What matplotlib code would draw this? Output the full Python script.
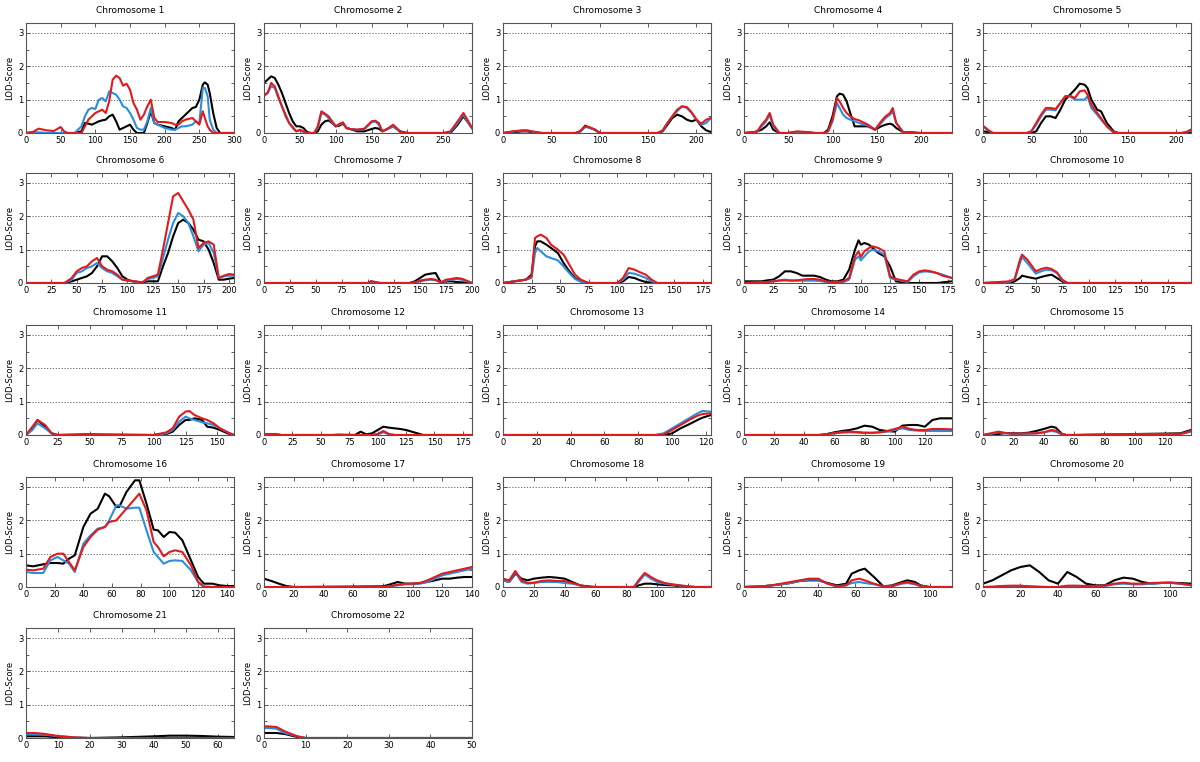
import numpy as np
import matplotlib
matplotlib.use('Agg')
from matplotlib import pyplot as plt
from matplotlib.ticker import MultipleLocator

# chromosome lengths (x-axis limits) and tick step
chrom_len = [300, 290, 215, 235, 215, 205, 200, 182, 178, 197, 163, 183,
             123, 138, 137, 145, 140, 135, 112, 111, 65, 50]
tick_step = [50, 50, 50, 50, 50, 25, 25, 25, 25, 25, 25, 25,
             20, 20, 20, 20, 20, 20, 20, 20, 10, 10]

# position (cM) and LOD score per chromosome: black, blue, red
pos = {}
black = {}
blue = {}
red = {}

pos[1] = [0, 10, 18, 30, 40, 50, 55, 60, 70, 80, 85, 90, 95, 100, 105, 110, 115, 120, 125, 130, 135, 140, 145, 150, 155, 160, 165, 170, 175, 180, 185, 190, 200, 210, 215, 220, 225, 230, 240, 245, 250, 255, 258, 262, 265, 270, 275, 280, 290, 300]
black[1] = [0, 0, 0, 0, 0, 0, 0, 0, 0, 0.05, 0.3, 0.28, 0.25, 0.3, 0.35, 0.38, 0.4, 0.5, 0.55, 0.35, 0.1, 0.15, 0.2, 0.25, 0.1, 0, 0, 0, 0.3, 0.65, 0.3, 0.25, 0.2, 0.15, 0.1, 0.35, 0.45, 0.55, 0.75, 0.78, 1.0, 1.45, 1.52, 1.45, 1.2, 0.6, 0.15, 0, 0, 0]
blue[1] = [0, 0.03, 0.02, 0, 0, 0, 0, 0, 0, 0.2, 0.5, 0.7, 0.75, 0.72, 1.0, 1.05, 0.95, 1.25, 1.2, 1.15, 1.0, 0.8, 0.75, 0.6, 0.4, 0.15, 0.1, 0.1, 0.35, 0.75, 0.3, 0.25, 0.15, 0.1, 0.1, 0.15, 0.2, 0.2, 0.25, 0.35, 0.3, 1.35, 1.35, 1.1, 0.4, 0.1, 0, 0, 0, 0]
red[1] = [0, 0.03, 0.13, 0.08, 0.06, 0.18, 0.05, 0, 0, 0, 0.2, 0.4, 0.5, 0.6, 0.65, 0.7, 0.6, 0.95, 1.6, 1.72, 1.65, 1.42, 1.48, 1.3, 0.9, 0.7, 0.4, 0.55, 0.8, 1.0, 0.45, 0.33, 0.33, 0.3, 0.25, 0.25, 0.35, 0.4, 0.45, 0.35, 0.25, 0.65, 0.45, 0.2, 0.1, 0, 0, 0, 0, 0]

pos[2] = [0, 5, 10, 15, 20, 25, 30, 35, 40, 45, 50, 55, 60, 65, 70, 75, 80, 85, 90, 95, 100, 105, 110, 115, 120, 130, 140, 150, 155, 160, 165, 170, 175, 180, 185, 190, 200, 250, 260, 270, 278, 285, 290]
black[2] = [1.5, 1.6, 1.7, 1.65, 1.45, 1.2, 0.9, 0.6, 0.35, 0.2, 0.2, 0.15, 0.03, 0, 0, 0.05, 0.25, 0.35, 0.38, 0.3, 0.2, 0.22, 0.28, 0.15, 0.12, 0.05, 0.05, 0.12, 0.15, 0.13, 0.05, 0.1, 0.15, 0.2, 0.12, 0.05, 0, 0, 0, 0.25, 0.5, 0.3, 0.15]
blue[2] = [1.1, 1.2, 1.4, 1.35, 1.05, 0.8, 0.5, 0.3, 0.15, 0.05, 0.08, 0.03, 0, 0, 0, 0.15, 0.6, 0.55, 0.45, 0.32, 0.2, 0.25, 0.3, 0.15, 0.12, 0.1, 0.12, 0.32, 0.35, 0.25, 0.05, 0.1, 0.15, 0.2, 0.12, 0.02, 0, 0, 0.03, 0.3, 0.55, 0.3, 0.15]
red[2] = [1.15, 1.2, 1.5, 1.4, 1.1, 0.8, 0.55, 0.3, 0.18, 0.05, 0.1, 0.05, 0, 0, 0, 0.2, 0.65, 0.58, 0.5, 0.35, 0.2, 0.27, 0.32, 0.15, 0.12, 0.1, 0.13, 0.35, 0.37, 0.3, 0.05, 0.1, 0.17, 0.25, 0.15, 0.03, 0, 0, 0.05, 0.35, 0.6, 0.35, 0.15]

pos[3] = [0, 10, 20, 25, 30, 40, 75, 80, 85, 90, 95, 100, 160, 165, 170, 175, 180, 185, 190, 195, 200, 205, 210, 215]
black[3] = [0, 0.02, 0.05, 0.05, 0.02, 0, 0, 0.05, 0.22, 0.15, 0.1, 0, 0, 0.05, 0.25, 0.45, 0.55, 0.5, 0.4, 0.35, 0.4, 0.2, 0.08, 0.03]
blue[3] = [0, 0.04, 0.07, 0.07, 0.04, 0, 0, 0.05, 0.18, 0.15, 0.1, 0, 0, 0.07, 0.3, 0.5, 0.65, 0.8, 0.75, 0.6, 0.4, 0.25, 0.3, 0.45]
red[3] = [0, 0.05, 0.08, 0.08, 0.05, 0, 0, 0.06, 0.2, 0.17, 0.1, 0, 0, 0.08, 0.3, 0.5, 0.7, 0.8, 0.78, 0.62, 0.4, 0.28, 0.4, 0.45]

pos[4] = [0, 10, 15, 20, 25, 29, 33, 40, 50, 60, 70, 80, 90, 95, 100, 105, 108, 112, 116, 120, 125, 130, 140, 148, 155, 160, 165, 168, 172, 180, 190, 200, 210, 235]
black[4] = [0, 0.02, 0.05, 0.1, 0.2, 0.32, 0.1, 0, 0, 0.03, 0.02, 0, 0, 0.1, 0.5, 1.1, 1.18, 1.15, 0.95, 0.6, 0.2, 0.2, 0.2, 0.1, 0.2, 0.25, 0.28, 0.25, 0.15, 0.02, 0.02, 0, 0, 0]
blue[4] = [0, 0.02, 0.05, 0.2, 0.35, 0.55, 0.2, 0, 0, 0.02, 0.02, 0, 0, 0.05, 0.35, 0.9, 0.75, 0.55, 0.45, 0.4, 0.35, 0.3, 0.22, 0.1, 0.3, 0.45, 0.55, 0.65, 0.3, 0.02, 0, 0, 0, 0]
red[4] = [0, 0.02, 0.05, 0.25, 0.4, 0.6, 0.25, 0, 0, 0.05, 0.03, 0, 0, 0.05, 0.4, 1.05, 0.95, 0.75, 0.6, 0.5, 0.42, 0.38, 0.25, 0.1, 0.35, 0.5, 0.6, 0.75, 0.3, 0.02, 0, 0, 0, 0]

pos[5] = [0, 5, 10, 45, 50, 55, 60, 65, 70, 75, 80, 85, 90, 95, 100, 105, 108, 112, 118, 122, 128, 135, 140, 205, 210, 215]
black[5] = [0.05, 0.03, 0, 0, 0, 0.05, 0.3, 0.5, 0.5, 0.45, 0.7, 1.0, 1.15, 1.3, 1.48, 1.45, 1.35, 1.0, 0.7, 0.65, 0.3, 0.05, 0, 0, 0, 0]
blue[5] = [0.2, 0.08, 0, 0, 0.05, 0.25, 0.5, 0.7, 0.7, 0.68, 0.9, 1.1, 1.1, 1.0, 1.0, 1.0, 1.1, 0.75, 0.55, 0.4, 0.2, 0.02, 0, 0, 0.02, 0.08]
red[5] = [0.22, 0.1, 0, 0, 0.05, 0.3, 0.55, 0.75, 0.75, 0.72, 0.9, 1.1, 1.12, 1.05, 1.25, 1.28, 1.15, 0.85, 0.6, 0.45, 0.2, 0.02, 0, 0, 0.03, 0.1]

pos[6] = [0, 10, 38, 45, 50, 55, 60, 65, 70, 75, 80, 85, 90, 95, 100, 105, 110, 115, 120, 125, 130, 135, 140, 145, 150, 155, 160, 165, 170, 175, 180, 185, 190, 195, 200, 205]
black[6] = [0, 0, 0, 0.05, 0.1, 0.15, 0.2, 0.3, 0.5, 0.8, 0.8, 0.65, 0.45, 0.2, 0.1, 0.05, 0.03, 0.02, 0.05, 0.05, 0.05, 0.5, 0.9, 1.4, 1.8, 1.9, 1.8, 1.6, 1.3, 1.25, 1.0, 0.6, 0.1, 0.1, 0.13, 0.15]
blue[6] = [0, 0, 0, 0.1, 0.3, 0.35, 0.45, 0.5, 0.6, 0.45, 0.35, 0.3, 0.2, 0.1, 0.07, 0.05, 0.03, 0.02, 0.12, 0.15, 0.2, 0.75, 1.3, 1.8, 2.1, 2.0, 1.8, 1.4, 0.95, 1.15, 1.2, 0.9, 0.15, 0.2, 0.22, 0.22]
red[6] = [0, 0, 0, 0.15, 0.35, 0.45, 0.5, 0.65, 0.75, 0.5, 0.4, 0.35, 0.25, 0.1, 0.08, 0.06, 0.04, 0.02, 0.15, 0.2, 0.25, 1.0, 1.8, 2.6, 2.7, 2.45, 2.2, 1.9, 1.05, 1.2, 1.25, 1.15, 0.15, 0.22, 0.27, 0.25]

pos[7] = [0, 100, 103, 107, 112, 140, 145, 150, 155, 160, 165, 170, 175, 180, 185, 190, 195, 200]
black[7] = [0, 0, 0, 0, 0, 0, 0.05, 0.15, 0.25, 0.28, 0.3, 0.02, 0.05, 0.05, 0.03, 0.02, 0.01, 0]
blue[7] = [0, 0, 0.04, 0.02, 0, 0, 0.01, 0.05, 0.08, 0.1, 0.08, 0.02, 0.07, 0.1, 0.12, 0.1, 0.05, 0]
red[7] = [0, 0, 0.06, 0.03, 0, 0, 0.02, 0.07, 0.1, 0.12, 0.1, 0.02, 0.1, 0.12, 0.15, 0.13, 0.07, 0]

pos[8] = [0, 10, 20, 25, 28, 30, 33, 38, 42, 48, 53, 58, 63, 68, 75, 100, 105, 110, 115, 120, 125, 130, 135, 182]
black[8] = [0, 0.05, 0.1, 0.25, 1.1, 1.25, 1.25, 1.15, 1.05, 0.9, 0.6, 0.35, 0.15, 0.05, 0, 0, 0.05, 0.18, 0.15, 0.08, 0.03, 0.01, 0, 0]
blue[8] = [0, 0.05, 0.1, 0.15, 0.9, 1.05, 0.95, 0.8, 0.75, 0.68, 0.5, 0.3, 0.12, 0.04, 0, 0, 0.1, 0.3, 0.28, 0.22, 0.15, 0.05, 0, 0]
red[8] = [0, 0.05, 0.1, 0.2, 1.35, 1.4, 1.45, 1.35, 1.15, 1.0, 0.85, 0.55, 0.25, 0.1, 0, 0, 0.15, 0.45, 0.4, 0.32, 0.25, 0.1, 0, 0]

pos[9] = [0, 15, 20, 25, 30, 35, 40, 45, 50, 55, 60, 65, 70, 75, 80, 85, 90, 95, 98, 100, 103, 107, 110, 115, 120, 125, 130, 140, 145, 150, 155, 160, 165, 170, 178]
black[9] = [0.05, 0.05, 0.08, 0.1, 0.2, 0.35, 0.35, 0.3, 0.22, 0.22, 0.22, 0.18, 0.1, 0.05, 0.05, 0.1, 0.4, 1.0, 1.28, 1.15, 1.2, 1.15, 1.05, 0.9, 0.8, 0.5, 0.05, 0, 0, 0, 0, 0, 0, 0.02, 0.05]
blue[9] = [0, 0.02, 0.03, 0.05, 0.08, 0.1, 0.08, 0.07, 0.07, 0.07, 0.07, 0.06, 0.03, 0.02, 0.02, 0.03, 0.1, 0.7, 0.8, 0.68, 0.8, 0.95, 1.0, 0.95, 0.85, 0.15, 0.1, 0.03, 0.2, 0.32, 0.35, 0.33, 0.3, 0.25, 0.15]
red[9] = [0, 0.02, 0.03, 0.05, 0.07, 0.08, 0.07, 0.08, 0.1, 0.12, 0.12, 0.1, 0.05, 0.03, 0.03, 0.05, 0.15, 0.8, 0.95, 0.78, 0.95, 1.05, 1.1, 1.05, 0.95, 0.2, 0.12, 0.05, 0.25, 0.35, 0.38, 0.35, 0.3, 0.22, 0.15]

pos[10] = [0, 25, 30, 35, 37, 42, 50, 55, 60, 65, 70, 75, 80, 197]
black[10] = [0, 0, 0.05, 0.15, 0.22, 0.18, 0.13, 0.18, 0.22, 0.25, 0.15, 0.05, 0, 0]
blue[10] = [0, 0.03, 0.1, 0.6, 0.78, 0.6, 0.28, 0.35, 0.4, 0.38, 0.3, 0.08, 0, 0]
red[10] = [0, 0.05, 0.12, 0.7, 0.85, 0.7, 0.35, 0.42, 0.46, 0.42, 0.32, 0.1, 0, 0]

pos[11] = [0, 5, 9, 15, 20, 25, 40, 50, 60, 100, 110, 115, 120, 125, 128, 132, 138, 142, 147, 152, 158, 163]
black[11] = [0, 0.2, 0.45, 0.25, 0.05, 0, 0, 0, 0, 0, 0.03, 0.1, 0.3, 0.45, 0.45, 0.5, 0.45, 0.25, 0.22, 0.15, 0.05, 0]
blue[11] = [0, 0.15, 0.35, 0.2, 0.05, 0, 0.01, 0.02, 0.01, 0, 0.05, 0.15, 0.4, 0.55, 0.5, 0.45, 0.38, 0.35, 0.3, 0.2, 0.08, 0]
red[11] = [0, 0.25, 0.45, 0.3, 0.05, 0, 0.02, 0.03, 0.02, 0, 0.08, 0.2, 0.55, 0.7, 0.72, 0.6, 0.5, 0.45, 0.35, 0.2, 0.08, 0]

pos[12] = [0, 5, 10, 15, 60, 65, 80, 85, 90, 95, 100, 105, 110, 115, 120, 125, 130, 135, 140, 183]
black[12] = [0, 0, 0.01, 0, 0, 0.01, 0, 0.1, 0.02, 0.05, 0.15, 0.25, 0.22, 0.2, 0.18, 0.15, 0.1, 0.05, 0, 0]
blue[12] = [0.02, 0.02, 0.03, 0, 0, 0, 0, 0, 0, 0, 0.02, 0.08, 0.02, 0, 0, 0, 0, 0, 0, 0]
red[12] = [0.02, 0.03, 0.03, 0, 0, 0, 0, 0, 0, 0, 0.03, 0.12, 0.03, 0, 0, 0, 0, 0, 0, 0]

pos[13] = [0, 90, 95, 100, 105, 110, 115, 118, 123]
black[13] = [0, 0, 0, 0.05, 0.2, 0.32, 0.45, 0.52, 0.6]
blue[13] = [0, 0, 0.05, 0.2, 0.35, 0.5, 0.65, 0.72, 0.7]
red[13] = [0, 0, 0.02, 0.15, 0.3, 0.45, 0.58, 0.63, 0.65]

pos[14] = [0, 50, 55, 60, 65, 70, 75, 80, 85, 90, 95, 100, 105, 110, 115, 120, 125, 130, 138]
black[14] = [0, 0, 0.03, 0.08, 0.12, 0.15, 0.2, 0.28, 0.25, 0.15, 0.12, 0.1, 0.28, 0.3, 0.3, 0.25, 0.45, 0.5, 0.5]
blue[14] = [0, 0, 0.02, 0.05, 0.07, 0.08, 0.07, 0.06, 0.06, 0.08, 0.1, 0.15, 0.2, 0.15, 0.13, 0.12, 0.12, 0.12, 0.12]
red[14] = [0, 0, 0.02, 0.06, 0.09, 0.1, 0.09, 0.07, 0.07, 0.08, 0.12, 0.18, 0.25, 0.18, 0.15, 0.15, 0.18, 0.18, 0.17]

pos[15] = [0, 5, 10, 15, 20, 25, 30, 35, 40, 45, 48, 52, 55, 60, 130, 137]
black[15] = [0, 0.01, 0.03, 0.06, 0.05, 0.05, 0.07, 0.12, 0.18, 0.25, 0.22, 0.03, 0, 0, 0.05, 0.15]
blue[15] = [0, 0.03, 0.08, 0.05, 0.03, 0.04, 0.04, 0.05, 0.08, 0.12, 0.1, 0.02, 0, 0, 0.03, 0.1]
red[15] = [0, 0.05, 0.1, 0.06, 0.04, 0.04, 0.05, 0.05, 0.08, 0.15, 0.13, 0.02, 0, 0, 0.03, 0.12]

pos[16] = [0, 5, 12, 17, 22, 26, 30, 34, 40, 45, 50, 55, 58, 63, 65, 70, 76, 79, 84, 89, 92, 96, 100, 104, 109, 115, 120, 124, 130, 135, 140, 145]
black[16] = [0.65, 0.62, 0.68, 0.72, 0.72, 0.7, 0.85, 0.95, 1.8, 2.2, 2.35, 2.8, 2.72, 2.4, 2.4, 2.85, 3.2, 3.2, 2.5, 1.72, 1.7, 1.5, 1.65, 1.63, 1.4, 0.8, 0.3, 0.1, 0.1, 0.05, 0.03, 0.03]
blue[16] = [0.45, 0.42, 0.42, 0.8, 0.9, 0.8, 0.7, 0.45, 1.3, 1.55, 1.75, 1.8, 2.0, 2.45, 2.45, 2.35, 2.38, 2.38, 1.7, 1.05, 0.9, 0.7, 0.78, 0.8, 0.78, 0.5, 0.15, 0.02, 0, 0, 0, 0]
red[16] = [0.52, 0.5, 0.55, 0.9, 1.0, 1.0, 0.75, 0.5, 1.2, 1.5, 1.72, 1.8, 1.95, 2.0, 2.1, 2.35, 2.65, 2.8, 2.3, 1.35, 1.2, 0.92, 1.05, 1.1, 1.05, 0.65, 0.15, 0, 0, 0, 0, 0]

pos[17] = [0, 5, 10, 15, 20, 80, 85, 90, 95, 100, 105, 110, 115, 120, 125, 130, 135, 140]
black[17] = [0.25, 0.18, 0.1, 0.03, 0, 0.02, 0.08, 0.15, 0.1, 0.1, 0.12, 0.15, 0.2, 0.25, 0.25, 0.28, 0.3, 0.3]
blue[17] = [0, 0, 0, 0, 0, 0, 0.02, 0.05, 0.08, 0.08, 0.1, 0.15, 0.25, 0.35, 0.4, 0.45, 0.5, 0.55]
red[17] = [0, 0, 0, 0, 0, 0, 0.03, 0.07, 0.1, 0.1, 0.12, 0.2, 0.3, 0.4, 0.45, 0.5, 0.55, 0.6]

pos[18] = [0, 4, 8, 12, 16, 20, 25, 30, 35, 40, 45, 50, 55, 60, 85, 88, 92, 96, 100, 105, 110, 115, 120, 125, 135]
black[18] = [0.2, 0.15, 0.4, 0.25, 0.2, 0.25, 0.28, 0.3, 0.28, 0.25, 0.15, 0.05, 0.02, 0, 0, 0.05, 0.1, 0.1, 0.08, 0.06, 0.05, 0.02, 0, 0, 0]
blue[18] = [0.2, 0.15, 0.45, 0.15, 0.1, 0.12, 0.15, 0.15, 0.15, 0.12, 0.1, 0.05, 0, 0, 0, 0.15, 0.38, 0.25, 0.15, 0.1, 0.07, 0.04, 0.02, 0, 0]
red[18] = [0.25, 0.2, 0.48, 0.2, 0.12, 0.13, 0.18, 0.2, 0.18, 0.18, 0.12, 0.05, 0, 0, 0, 0.2, 0.42, 0.3, 0.2, 0.12, 0.08, 0.05, 0.02, 0, 0]

pos[19] = [0, 10, 15, 20, 25, 30, 35, 40, 45, 50, 55, 58, 62, 65, 70, 75, 80, 85, 88, 92, 95, 100, 112]
black[19] = [0, 0.02, 0.05, 0.08, 0.12, 0.18, 0.2, 0.2, 0.12, 0.05, 0.1, 0.4, 0.5, 0.55, 0.3, 0.02, 0.05, 0.15, 0.2, 0.15, 0.05, 0, 0]
blue[19] = [0, 0.02, 0.05, 0.08, 0.12, 0.18, 0.22, 0.22, 0.1, 0.02, 0.05, 0.12, 0.15, 0.12, 0.08, 0.02, 0.03, 0.1, 0.12, 0.08, 0.03, 0, 0]
red[19] = [0, 0.02, 0.05, 0.1, 0.15, 0.2, 0.25, 0.25, 0.1, 0.02, 0.05, 0.2, 0.25, 0.2, 0.1, 0.02, 0.03, 0.12, 0.15, 0.1, 0.03, 0, 0]

pos[20] = [0, 5, 10, 15, 20, 25, 30, 35, 40, 45, 50, 55, 60, 65, 70, 75, 80, 85, 90, 95, 100, 105, 111]
black[20] = [0.1, 0.2, 0.35, 0.5, 0.6, 0.65, 0.45, 0.2, 0.1, 0.45, 0.3, 0.1, 0.05, 0.05, 0.2, 0.28, 0.25, 0.15, 0.1, 0.12, 0.13, 0.12, 0.1]
blue[20] = [0, 0, 0.02, 0.02, 0.02, 0.01, 0, 0, 0, 0.02, 0.02, 0.02, 0.02, 0.03, 0.08, 0.1, 0.08, 0.08, 0.1, 0.12, 0.12, 0.1, 0.05]
red[20] = [0, 0.01, 0.03, 0.04, 0.04, 0.02, 0.01, 0, 0, 0.04, 0.04, 0.03, 0.03, 0.04, 0.1, 0.13, 0.1, 0.1, 0.12, 0.13, 0.13, 0.1, 0.06]

pos[21] = [0, 3, 6, 10, 15, 20, 30, 40, 45, 50, 55, 60, 65]
black[21] = [0.05, 0.05, 0.05, 0.02, 0, 0, 0.02, 0.05, 0.07, 0.07, 0.06, 0.04, 0.03]
blue[21] = [0.12, 0.12, 0.1, 0.05, 0.02, 0, 0, 0, 0, 0, 0, 0, 0]
red[21] = [0.15, 0.15, 0.12, 0.06, 0.02, 0, 0, 0, 0, 0, 0, 0, 0]

pos[22] = [0, 1, 3, 5, 8, 10, 15, 50]
black[22] = [0.15, 0.15, 0.15, 0.12, 0.03, 0, 0, 0]
blue[22] = [0.3, 0.3, 0.28, 0.15, 0.05, 0, 0, 0]
red[22] = [0.35, 0.35, 0.33, 0.2, 0.05, 0, 0, 0]


def main():
    W, H = 1200, 762
    fig = plt.figure(figsize=(W / 100, H / 100), dpi=100)
    lefts = [26, 264, 503, 744, 983]
    bottoms = [133, 283, 435, 587, 738]
    aw, ah = 208, 110
    for i in range(22):
        c = i + 1
        r, col = divmod(i, 5)
        ax = fig.add_axes([lefts[col] / W, 1 - bottoms[r] / H, aw / W, ah / H])
        ax.plot(pos[c], black[c], color='black', lw=1.5)
        ax.plot(pos[c], blue[c], color='#2a8ee0', lw=1.5)
        ax.plot(pos[c], red[c], color='#e31a1c', lw=1.5)
        ax.set_xlim(0, chrom_len[i])
        ax.set_ylim(0, 3.3)
        ax.xaxis.set_major_locator(MultipleLocator(tick_step[i]))
        ax.yaxis.set_major_locator(MultipleLocator(1))
        ax.yaxis.set_minor_locator(MultipleLocator(0.5))
        ax.tick_params(which='both', direction='in', top=True, right=True,
                       labelsize=6, pad=2, length=3, width=0.6, color='#444444')
        ax.tick_params(which='minor', length=2)
        for y in [1, 2, 3]:
            ax.axhline(y, color='#555555', lw=0.6, ls=(0, (1.5, 2)), zorder=0)
        for s in ax.spines.values():
            s.set_color('#555555')
            s.set_linewidth(0.8)
        ax.set_title('Chromosome %d' % c, fontsize=6.5, pad=7)
        ax.set_ylabel('LOD-Score', fontsize=6, labelpad=3)
    fig.savefig('out.png', dpi=100)


if __name__ == '__main__':
    main()
